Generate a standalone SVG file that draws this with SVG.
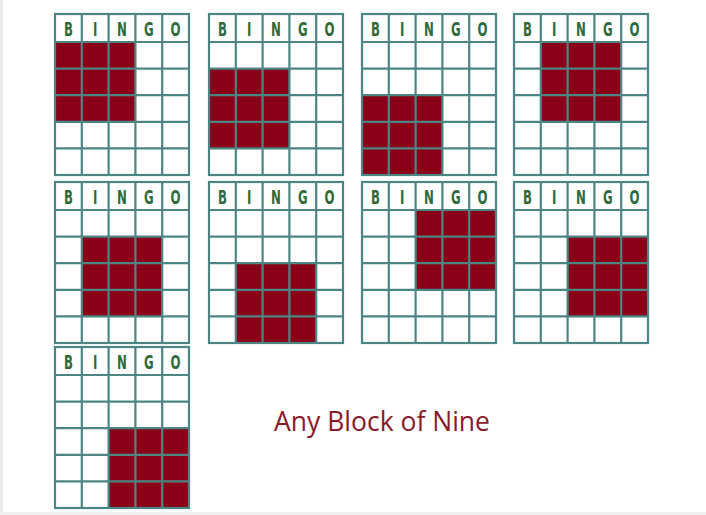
<svg xmlns="http://www.w3.org/2000/svg" xmlns:xlink="http://www.w3.org/1999/xlink" width="706" height="515" viewBox="0 0 706 515">
<style>
.bg{fill:#ffffff}
.cell{fill:#8a0019}
.grid{fill:none;stroke:#4d8585;stroke-width:2.2}
.hdr{font-family:"DejaVu Sans",sans-serif;font-weight:bold;font-size:19px;fill:#2f6a3a;text-anchor:middle}
.title{font-family:"Open Sans","Liberation Sans",sans-serif;font-size:26.5px;fill:#8a1a2a;text-anchor:middle}
</style>
<defs>
<g id="card">
<rect class="grid" x="0" y="0" width="134" height="161" fill="none"/>
<path class="grid" d="M26.8 0V161M53.6 0V161M80.4 0V161M107.2 0V161M0 28H134M0 54.6H134M0 81.2H134M0 107.8H134M0 134.4H134"/>
<text class="hdr" transform="translate(13.4,21.5) scale(0.62,1)">B</text>
<text class="hdr" transform="translate(40.2,21.5) scale(0.62,1)">I</text>
<text class="hdr" transform="translate(67,21.5) scale(0.62,1)">N</text>
<text class="hdr" transform="translate(93.8,21.5) scale(0.62,1)">G</text>
<text class="hdr" transform="translate(120.6,21.5) scale(0.62,1)">O</text>
</g>
</defs>
<rect class="bg" x="0" y="0" width="706" height="515"/>
<rect x="0" y="0" width="3" height="515" fill="#ebebeb"/>
<rect x="0" y="512" width="706" height="3" fill="#efefef"/>
<g id="card1" transform="translate(55,14)"><rect class="cell" x="0" y="28" width="80.4" height="79.8"/><use xlink:href="#card"/></g>
<g id="card2" transform="translate(209,14)"><rect class="cell" x="0" y="54.6" width="80.4" height="79.8"/><use xlink:href="#card"/></g>
<g id="card3" transform="translate(362,14)"><rect class="cell" x="0" y="81.2" width="80.4" height="79.8"/><use xlink:href="#card"/></g>
<g id="card4" transform="translate(514,14)"><rect class="cell" x="26.8" y="28" width="80.4" height="79.8"/><use xlink:href="#card"/></g>
<g id="card5" transform="translate(55,182)"><rect class="cell" x="26.8" y="54.6" width="80.4" height="79.8"/><use xlink:href="#card"/></g>
<g id="card6" transform="translate(209,182)"><rect class="cell" x="26.8" y="81.2" width="80.4" height="79.8"/><use xlink:href="#card"/></g>
<g id="card7" transform="translate(362,182)"><rect class="cell" x="53.6" y="28" width="80.4" height="79.8"/><use xlink:href="#card"/></g>
<g id="card8" transform="translate(514,182)"><rect class="cell" x="53.6" y="54.6" width="80.4" height="79.8"/><use xlink:href="#card"/></g>
<g id="card9" transform="translate(55,347)"><rect class="cell" x="53.6" y="81.2" width="80.4" height="79.8"/><use xlink:href="#card"/></g>
<g id="connectors"/>
<text class="title" x="382" y="431">Any Block of Nine</text>
</svg>
